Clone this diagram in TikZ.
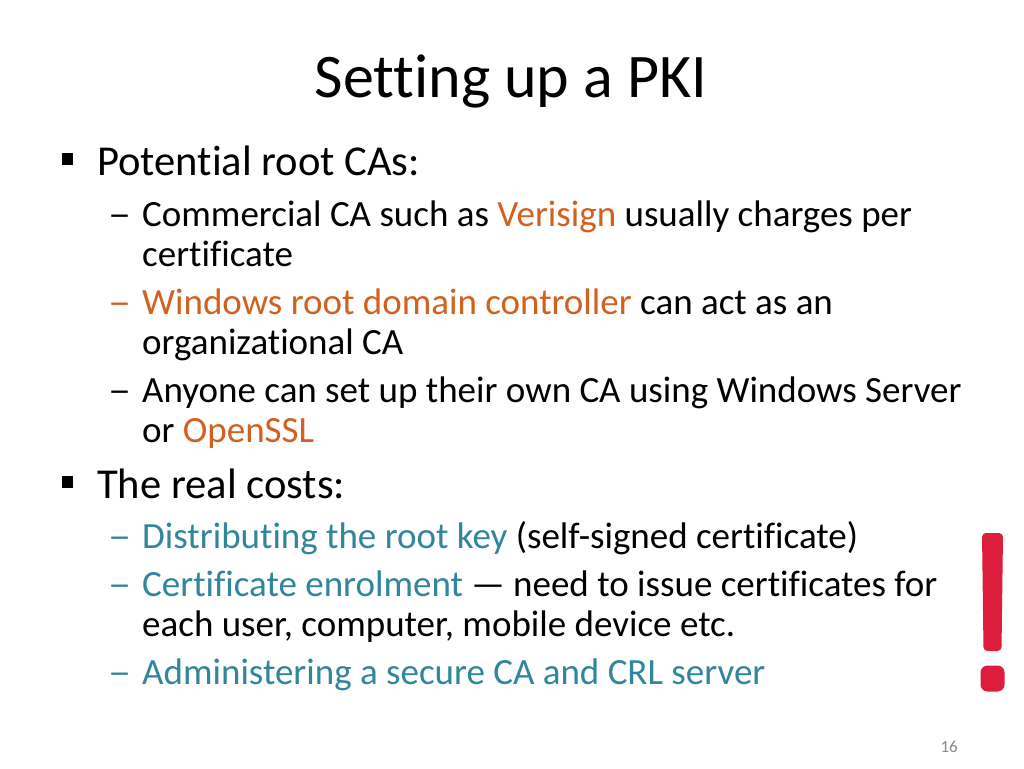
\documentclass[tikz,border=0pt]{standalone}
\usepackage{fontspec}
\setmainfont{Carlito}[Ligatures=NoCommon]
\definecolor{accorange}{HTML}{D2601E}
\definecolor{accteal}{HTML}{31859C}
\definecolor{bangred}{HTML}{DC1E3C}
\definecolor{pagegray}{HTML}{898989}
\newcommand{\subdash}{\scalebox{1.25}[1]{–}}
\begin{document}
\begin{tikzpicture}[x=1pt,y=-1pt,
  titletext/.style={anchor=base,inner sep=0pt,font=\fontsize{62}{75}\selectfont},
  lvlone/.style={anchor=base west,inner sep=0pt,font=\fontsize{42.6}{52}\selectfont},
  lvltwo/.style={anchor=base west,inner sep=0pt,font=\fontsize{37}{45}\selectfont},
  sqbullet/.style={fill=black,draw=none},
  bang/.style={fill=bangred,draw=none,rounded corners=4pt}]
\useasboundingbox[fill=white] (0,0) rectangle (1024,768);
\node[titletext] (title) at (511,97) {Setting up a PKI};
% level 1 bullets
\fill[sqbullet] (62,153) rectangle (73,165);
\node[lvlone] (l1a) at (97,175) {Potential root CAs:};
\node[lvltwo] (d1) at (108,226) {\subdash};
\node[lvltwo] (t1) at (142,226) {Commercial CA such as \textcolor{accorange}{Verisign} usually charges per};
\node[lvltwo] (t1b) at (142,266) {certificate};
\node[lvltwo,text=accorange] (d2) at (108,314) {\subdash};
\node[lvltwo] (t2) at (142,314) {\textcolor{accorange}{Windows root domain controller} can act as an};
\node[lvltwo] (t2b) at (142,354) {organizational CA};
\node[lvltwo] (d3) at (108,402) {\subdash};
\node[lvltwo] (t3) at (142,402) {Anyone can set up their own CA using Windows Server};
\node[lvltwo] (t3b) at (142,442) {or \textcolor{accorange}{OpenSSL}};
\fill[sqbullet] (62,476) rectangle (73,488);
\node[lvlone] (l1b) at (97,498) {The real costs:};
\node[lvltwo,text=accteal] (d4) at (108,548) {\subdash};
\node[lvltwo] (t4) at (142,548) {\textcolor{accteal}{Distributing the root key} (self-signed certificate)};
\node[lvltwo,text=accteal] (d5) at (108,596) {\subdash};
\node[lvltwo] (t5) at (142,596) {\textcolor{accteal}{Certificate enrolment} — need to issue certificates for};
\node[lvltwo] (t5b) at (142,636) {each user, computer, mobile device etc.};
\node[lvltwo,text=accteal] (d6) at (108,684) {\subdash};
\node[lvltwo,text=accteal] (t6) at (142,684) {Administering a secure CA and CRL server};
% exclamation mark
\fill[bang] (982,533) -- (1003,533) -- (1001.5,651) -- (983.5,651) -- cycle;
\fill[bang,rounded corners=7pt] (980.5,665.5) rectangle (1004.5,691.5);
% page number
\node[anchor=base east,inner sep=0pt,text=pagegray,font=\fontsize{17}{20}\selectfont] (pg) at (958,752) {16};
\end{tikzpicture}
\end{document}
